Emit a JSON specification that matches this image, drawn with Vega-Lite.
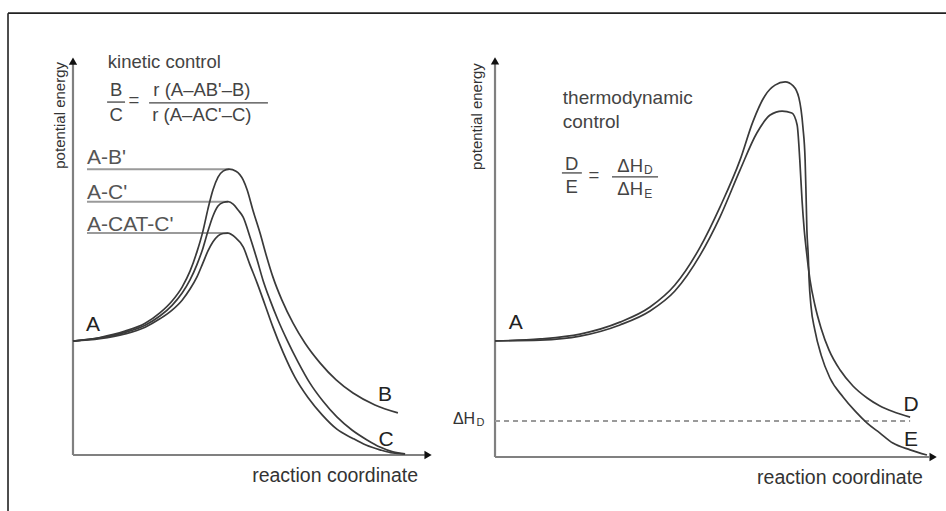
{
  "$schema": "https://vega.github.io/schema/vega-lite/v6.json",
  "width": 946,
  "height": 511,
  "autosize": {"type": "none"},
  "padding": 0,
  "background": "white",
  "config": {"view": {"stroke": null}, "font": "Liberation Sans"},
  "datasets": {
    "leftCurves": [
      {"c":"B","i":0,"x":0,"y":28.7},{"c":"B","i":1,"x":7.5,"y":29.6},{"c":"B","i":2,"x":14.5,"y":31.2},{"c":"B","i":3,"x":20.1,"y":33.2},{"c":"B","i":4,"x":24.2,"y":35.8},{"c":"B","i":5,"x":27.6,"y":38.8},{"c":"B","i":6,"x":30.4,"y":42.3},{"c":"B","i":7,"x":32.6,"y":46.3},{"c":"B","i":8,"x":34.5,"y":51.1},{"c":"B","i":9,"x":36.2,"y":56.4},{"c":"B","i":10,"x":37.6,"y":62.0},{"c":"B","i":11,"x":39.0,"y":66.8},{"c":"B","i":12,"x":40.4,"y":70.0},{"c":"B","i":13,"x":41.8,"y":71.5},{"c":"B","i":14,"x":43.5,"y":72.0},{"c":"B","i":15,"x":45.4,"y":71.5},{"c":"B","i":16,"x":47.4,"y":69.3},{"c":"B","i":17,"x":48.5,"y":66.8},{"c":"B","i":18,"x":50.1,"y":61.7},{"c":"B","i":19,"x":52.1,"y":55.9},{"c":"B","i":20,"x":53.8,"y":50.4},{"c":"B","i":21,"x":55.7,"y":44.8},{"c":"B","i":22,"x":58.2,"y":39.0},{"c":"B","i":23,"x":61.3,"y":33.2},{"c":"B","i":24,"x":64.6,"y":28.2},{"c":"B","i":25,"x":68.8,"y":23.2},{"c":"B","i":26,"x":73.3,"y":18.9},{"c":"B","i":27,"x":78.0,"y":15.6},{"c":"B","i":28,"x":84.1,"y":12.6},{"c":"B","i":29,"x":90.5,"y":10.6},
      {"c":"C1","i":0,"x":0,"y":28.7},{"c":"C1","i":1,"x":7.5,"y":29.5},{"c":"C1","i":2,"x":14.5,"y":30.9},{"c":"C1","i":3,"x":20.1,"y":32.7},{"c":"C1","i":4,"x":24.2,"y":35.0},{"c":"C1","i":5,"x":27.6,"y":37.7},{"c":"C1","i":6,"x":30.4,"y":40.8},{"c":"C1","i":7,"x":32.6,"y":44.1},{"c":"C1","i":8,"x":34.5,"y":47.9},{"c":"C1","i":9,"x":36.2,"y":52.1},{"c":"C1","i":10,"x":37.6,"y":56.4},{"c":"C1","i":11,"x":39.0,"y":60.2},{"c":"C1","i":12,"x":40.4,"y":62.7},{"c":"C1","i":13,"x":41.8,"y":63.6},{"c":"C1","i":14,"x":43.2,"y":63.8},{"c":"C1","i":15,"x":44.6,"y":63.2},{"c":"C1","i":16,"x":46.0,"y":61.7},{"c":"C1","i":17,"x":47.4,"y":59.9},{"c":"C1","i":18,"x":49.3,"y":54.9},{"c":"C1","i":19,"x":51.3,"y":49.1},{"c":"C1","i":20,"x":52.9,"y":44.1},{"c":"C1","i":21,"x":54.9,"y":39.0},{"c":"C1","i":22,"x":57.1,"y":34.0},{"c":"C1","i":23,"x":59.6,"y":29.0},{"c":"C1","i":24,"x":62.7,"y":23.4},{"c":"C1","i":25,"x":66.0,"y":18.1},{"c":"C1","i":26,"x":69.6,"y":13.6},{"c":"C1","i":27,"x":73.5,"y":9.6},{"c":"C1","i":28,"x":77.7,"y":6.3},{"c":"C1","i":29,"x":81.9,"y":3.8},{"c":"C1","i":30,"x":85.5,"y":2.0},{"c":"C1","i":31,"x":89.1,"y":0.8},{"c":"C1","i":32,"x":92.5,"y":0.3},
      {"c":"C2","i":0,"x":0,"y":28.7},{"c":"C2","i":1,"x":7.5,"y":29.3},{"c":"C2","i":2,"x":14.5,"y":30.5},{"c":"C2","i":3,"x":20.1,"y":32.2},{"c":"C2","i":4,"x":24.2,"y":34.3},{"c":"C2","i":5,"x":27.6,"y":36.5},{"c":"C2","i":6,"x":30.4,"y":39.0},{"c":"C2","i":7,"x":32.6,"y":41.8},{"c":"C2","i":8,"x":34.5,"y":44.8},{"c":"C2","i":9,"x":36.2,"y":48.4},{"c":"C2","i":10,"x":37.6,"y":51.4},{"c":"C2","i":11,"x":39.0,"y":53.7},{"c":"C2","i":12,"x":40.4,"y":55.2},{"c":"C2","i":13,"x":41.8,"y":55.8},{"c":"C2","i":14,"x":43.2,"y":55.9},{"c":"C2","i":15,"x":45.1,"y":54.9},{"c":"C2","i":16,"x":47.4,"y":52.4},{"c":"C2","i":17,"x":49.3,"y":47.9},{"c":"C2","i":18,"x":51.3,"y":43.3},{"c":"C2","i":19,"x":53.5,"y":37.8},{"c":"C2","i":20,"x":55.7,"y":32.2},{"c":"C2","i":21,"x":58.5,"y":25.9},{"c":"C2","i":22,"x":61.8,"y":19.6},{"c":"C2","i":23,"x":65.5,"y":14.4},{"c":"C2","i":24,"x":69.4,"y":10.1},{"c":"C2","i":25,"x":73.5,"y":6.5},{"c":"C2","i":26,"x":77.7,"y":4.3},{"c":"C2","i":27,"x":81.6,"y":2.5},{"c":"C2","i":28,"x":85.5,"y":1.3},{"c":"C2","i":29,"x":89.1,"y":0.5},{"c":"C2","i":30,"x":92.5,"y":0.3}
    ],
    "rightCurves": [
      {"c":"E","i":0,"x":0,"y":29.1},{"c":"E","i":1,"x":10.2,"y":29.6},{"c":"E","i":2,"x":19.2,"y":30.8},{"c":"E","i":3,"x":28.2,"y":33.8},{"c":"E","i":4,"x":35.0,"y":37.6},{"c":"E","i":5,"x":40.6,"y":43.1},{"c":"E","i":6,"x":46.3,"y":52.6},{"c":"E","i":7,"x":50.8,"y":62.7},{"c":"E","i":8,"x":55.3,"y":74.4},{"c":"E","i":9,"x":58.2,"y":84.0},{"c":"E","i":10,"x":60.9,"y":90.5},{"c":"E","i":11,"x":63.2,"y":93.2},{"c":"E","i":12,"x":65.5,"y":94.0},{"c":"E","i":13,"x":67.3,"y":93.0},{"c":"E","i":14,"x":68.6,"y":90.0},{"c":"E","i":15,"x":69.5,"y":82.7},{"c":"E","i":16,"x":70.0,"y":74.4},{"c":"E","i":17,"x":70.2,"y":66.2},{"c":"E","i":18,"x":70.4,"y":56.9},{"c":"E","i":19,"x":70.7,"y":50.6},{"c":"E","i":20,"x":70.9,"y":44.4},{"c":"E","i":21,"x":71.3,"y":38.1},{"c":"E","i":22,"x":72.2,"y":31.8},{"c":"E","i":23,"x":73.6,"y":25.6},{"c":"E","i":24,"x":75.6,"y":19.8},{"c":"E","i":25,"x":78.6,"y":15.0},{"c":"E","i":26,"x":81.3,"y":11.5},{"c":"E","i":27,"x":84.0,"y":8.5},{"c":"E","i":28,"x":86.9,"y":6.0},{"c":"E","i":29,"x":89.8,"y":3.5},{"c":"E","i":30,"x":93.7,"y":1.8},{"c":"E","i":31,"x":97.5,"y":0.5},
      {"c":"D","i":0,"x":0,"y":29.1},{"c":"D","i":1,"x":10.2,"y":29.3},{"c":"D","i":2,"x":19.2,"y":30.3},{"c":"D","i":3,"x":28.2,"y":33.1},{"c":"D","i":4,"x":35.0,"y":36.6},{"c":"D","i":5,"x":40.6,"y":41.6},{"c":"D","i":6,"x":46.3,"y":50.6},{"c":"D","i":7,"x":50.8,"y":60.2},{"c":"D","i":8,"x":55.3,"y":71.9},{"c":"D","i":9,"x":59.1,"y":81.2},{"c":"D","i":10,"x":62.1,"y":85.7},{"c":"D","i":11,"x":64.8,"y":86.7},{"c":"D","i":12,"x":67.0,"y":86.2},{"c":"D","i":13,"x":68.2,"y":83.2},{"c":"D","i":14,"x":68.8,"y":74.4},{"c":"D","i":15,"x":69.3,"y":64.4},{"c":"D","i":16,"x":69.8,"y":56.9},{"c":"D","i":17,"x":70.4,"y":50.6},{"c":"D","i":18,"x":71.1,"y":44.4},{"c":"D","i":19,"x":72.2,"y":38.1},{"c":"D","i":20,"x":73.6,"y":32.3},{"c":"D","i":21,"x":75.4,"y":26.8},{"c":"D","i":22,"x":77.9,"y":21.8},{"c":"D","i":23,"x":80.8,"y":17.8},{"c":"D","i":24,"x":84.0,"y":14.8},{"c":"D","i":25,"x":86.9,"y":12.8},{"c":"D","i":26,"x":89.8,"y":11.4},{"c":"D","i":27,"x":93.7,"y":10.0}
    ]
  },
  "layer": [
    {
      "encoding": {
        "x": {"field": "x", "type": "quantitative", "scale": {"domain": [-20.33, 243.17], "nice": false, "zero": false}, "axis": null},
        "y": {"field": "y", "type": "quantitative", "scale": {"domain": [-14.106, 114.61], "nice": false, "zero": false}, "axis": null}
      },
      "layer": [
        {
          "data": {"values": [{"x": -18.1, "y": 111.3, "x2": 280, "y2": 111.3}, {"x": -18.1, "y": 111.3, "x2": -18.1, "y2": -30}]},
          "mark": {"type": "rule", "color": "#222222", "strokeWidth": 1.6},
          "encoding": {"x2": {"field": "x2"}, "y2": {"field": "y2"}}
        },
        {
          "data": {"values": [{"x": 0, "y": 0, "x2": 98, "y2": 0}, {"x": 0, "y": 0, "x2": 0, "y2": 98.5}]},
          "mark": {"type": "rule", "color": "#808080", "strokeWidth": 2.2},
          "encoding": {"x2": {"field": "x2"}, "y2": {"field": "y2"}}
        },
        {
          "data": {"values": [{"x": 98.9, "y": 0, "dir": "right"}, {"x": 0, "y": 99.2, "dir": "up"}]},
          "mark": {"type": "point", "filled": true, "color": "#111111", "size": 70, "opacity": 1},
          "encoding": {"shape": {"field": "dir", "type": "nominal", "scale": {"domain": ["right", "up"], "range": ["triangle-right", "triangle-up"]}, "legend": null}}
        },
        {
          "data": {"values": [{"label": "A-B'", "x": 3.9, "x2": 43.5, "y": 72.0}, {"label": "A-C'", "x": 3.9, "x2": 43.2, "y": 63.8}, {"label": "A-CAT-C'", "x": 3.9, "x2": 43.2, "y": 55.9}]},
          "mark": {"type": "rule", "color": "#9a9a9a", "strokeWidth": 2},
          "encoding": {"x2": {"field": "x2"}}
        },
        {
          "data": {"values": [{"text": "A-B'", "x": 3.9, "y": 73.3}, {"text": "A-C'", "x": 3.9, "y": 64.5}, {"text": "A-CAT-C'", "x": 3.9, "y": 56.4}]},
          "mark": {"type": "text", "align": "left", "baseline": "alphabetic", "fontSize": 21, "color": "#555555"},
          "encoding": {"text": {"field": "text"}}
        },
        {
          "data": {"name": "leftCurves"},
          "mark": {"type": "line", "interpolate": "monotone", "color": "#3a3a3a", "strokeWidth": 1.7},
          "encoding": {"detail": {"field": "c"}, "order": {"field": "i", "type": "quantitative"}}
        },
        {
          "data": {"values": [{"text": "A", "x": 5.6, "y": 32.7}, {"text": "B", "x": 86.9, "y": 15.1}, {"text": "C", "x": 87.2, "y": 3.8}]},
          "mark": {"type": "text", "align": "center", "baseline": "middle", "fontSize": 21, "color": "#222222"},
          "encoding": {"text": {"field": "text"}}
        },
        {
          "data": {"values": [{"text": "kinetic control", "x": 9.7, "y": 97.5}]},
          "mark": {"type": "text", "align": "left", "baseline": "alphabetic", "fontSize": 18.5, "color": "#444444"},
          "encoding": {"text": {"field": "text"}}
        },
        {
          "data": {"values": [{"text": "B", "x": 12.0, "y": 91.9}, {"text": "C", "x": 12.0, "y": 85.6}, {"text": "=", "x": 17.0, "y": 89.4}, {"text": "r (A–AB'–B)", "x": 35.9, "y": 91.9}, {"text": "r (A–AC'–C)", "x": 35.9, "y": 85.6}]},
          "mark": {"type": "text", "align": "center", "baseline": "middle", "fontSize": 18.5, "color": "#444444"},
          "encoding": {"text": {"field": "text"}}
        },
        {
          "data": {"values": [{"x": 9.5, "x2": 14.5, "y": 88.9}, {"x": 21.2, "x2": 54.3, "y": 88.7}]},
          "mark": {"type": "rule", "color": "#444444", "strokeWidth": 1.3},
          "encoding": {"x2": {"field": "x2"}}
        },
        {
          "data": {"values": [{"text": "reaction coordinate", "x": 96.1, "y": -6.8}]},
          "mark": {"type": "text", "align": "right", "baseline": "alphabetic", "fontSize": 19.5, "color": "#333333"},
          "encoding": {"text": {"field": "text"}}
        },
        {
          "data": {"values": [{"text": "potential energy", "x": -3.6, "y": 99.0}]},
          "mark": {"type": "text", "angle": 270, "align": "right", "baseline": "middle", "fontSize": 15, "color": "#333333"},
          "encoding": {"text": {"field": "text"}}
        }
      ]
    },
    {
      "encoding": {
        "x": {"field": "x", "type": "quantitative", "scale": {"domain": [-111.74, 101.8], "nice": false, "zero": false}, "axis": null},
        "y": {"field": "y", "type": "quantitative", "scale": {"domain": [-13.53, 114.54], "nice": false, "zero": false}, "axis": null}
      },
      "layer": [
        {
          "data": {"values": [{"x": 0, "y": 0, "x2": 98, "y2": 0}, {"x": 0, "y": 0, "x2": 0, "y2": 98.8}]},
          "mark": {"type": "rule", "color": "#808080", "strokeWidth": 2.2},
          "encoding": {"x2": {"field": "x2"}, "y2": {"field": "y2"}}
        },
        {
          "data": {"values": [{"x": 98.9, "y": 0, "dir": "right"}, {"x": 0, "y": 99.3, "dir": "up"}]},
          "mark": {"type": "point", "filled": true, "color": "#111111", "size": 70, "opacity": 1},
          "encoding": {"shape": {"field": "dir", "type": "nominal", "scale": {"domain": ["right", "up"], "range": ["triangle-right", "triangle-up"]}, "legend": null}}
        },
        {
          "data": {"values": [{"x": 0, "x2": 93.7, "y": 9.0}]},
          "mark": {"type": "rule", "color": "#9a9a9a", "strokeWidth": 2, "strokeDash": [5, 4]},
          "encoding": {"x2": {"field": "x2"}}
        },
        {
          "data": {"name": "rightCurves"},
          "mark": {"type": "line", "interpolate": "monotone", "color": "#3a3a3a", "strokeWidth": 1.7},
          "encoding": {"detail": {"field": "c"}, "order": {"field": "i", "type": "quantitative"}}
        },
        {
          "data": {"values": [{"text": "A", "x": 4.7, "y": 33.6}, {"text": "D", "x": 93.9, "y": 13.0}, {"text": "E", "x": 93.9, "y": 4.3}]},
          "mark": {"type": "text", "align": "center", "baseline": "middle", "fontSize": 21, "color": "#222222"},
          "encoding": {"text": {"field": "text"}}
        },
        {
          "data": {"values": [{"text": "thermodynamic", "x": 15.3, "y": 88.5}, {"text": "control", "x": 15.3, "y": 82.5}]},
          "mark": {"type": "text", "align": "left", "baseline": "alphabetic", "fontSize": 19, "color": "#444444"},
          "encoding": {"text": {"field": "text"}}
        },
        {
          "data": {"values": [{"text": "D", "x": 17.3, "y": 73.4}, {"text": "E", "x": 17.3, "y": 67.7}, {"text": "=", "x": 22.3, "y": 70.7}, {"text": "ΔH", "x": 30.5, "y": 72.9}, {"text": "ΔH", "x": 30.5, "y": 67.2}]},
          "mark": {"type": "text", "align": "center", "baseline": "middle", "fontSize": 18.5, "color": "#444444"},
          "encoding": {"text": {"field": "text"}}
        },
        {
          "data": {"values": [{"text": "D", "x": 34.6, "y": 71.9}, {"text": "E", "x": 34.6, "y": 65.9}]},
          "mark": {"type": "text", "align": "center", "baseline": "middle", "fontSize": 12, "color": "#444444"},
          "encoding": {"text": {"field": "text"}}
        },
        {
          "data": {"values": [{"x": 15.1, "x2": 19.6, "y": 71.2}, {"x": 26.4, "x2": 36.8, "y": 70.2}]},
          "mark": {"type": "rule", "color": "#444444", "strokeWidth": 1.3},
          "encoding": {"x2": {"field": "x2"}}
        },
        {
          "data": {"values": [{"text": "ΔH", "x": -7.0, "y": 9.6}]},
          "mark": {"type": "text", "align": "center", "baseline": "middle", "fontSize": 16, "color": "#333333"},
          "encoding": {"text": {"field": "text"}}
        },
        {
          "data": {"values": [{"text": "D", "x": -3.3, "y": 8.5}]},
          "mark": {"type": "text", "align": "center", "baseline": "middle", "fontSize": 11, "color": "#333333"},
          "encoding": {"text": {"field": "text"}}
        },
        {
          "data": {"values": [{"text": "reaction coordinate", "x": 96.6, "y": -6.8}]},
          "mark": {"type": "text", "align": "right", "baseline": "alphabetic", "fontSize": 19.5, "color": "#333333"},
          "encoding": {"text": {"field": "text"}}
        },
        {
          "data": {"values": [{"text": "potential energy", "x": -4.1, "y": 98.7}]},
          "mark": {"type": "text", "angle": 270, "align": "right", "baseline": "middle", "fontSize": 15, "color": "#333333"},
          "encoding": {"text": {"field": "text"}}
        }
      ]
    }
  ],
  "resolve": {"scale": {"x": "independent", "y": "independent"}}
}
